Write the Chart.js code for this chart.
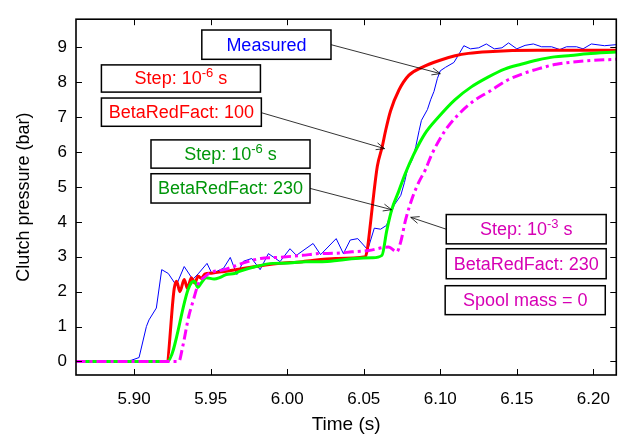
<!DOCTYPE html>
<html>
<head>
<meta charset="utf-8">
<script src="https://cdn.jsdelivr.net/npm/chart.js@4.4.0/dist/chart.umd.min.js"></script>
<style>
    html, body { margin: 0; padding: 0; background: #fff; }
</style>
</head>
<body>
<canvas id="chart" width="624" height="443"></canvas>
<script>
// values
const measuredT = [5.8617, 5.8922, 5.898, 5.9032, 5.908, 5.9097, 5.9145, 5.918, 5.9223, 5.9275, 5.9327, 5.9383, 5.9422, 5.9476, 5.9508, 5.9584, 5.9628, 5.9671, 5.9714, 5.9768, 5.9823, 5.9877, 5.9953, 6.0018, 6.006, 6.0169, 6.0218, 6.032, 6.0367, 6.0412, 6.0461, 6.0526, 6.0569, 6.061, 6.0649, 6.0699, 6.0742, 6.0766, 6.0786, 6.0818, 6.084, 6.0862, 6.0877, 6.0916, 6.0937, 6.0959, 6.0981, 6.1, 6.1034, 6.1089, 6.1121, 6.1154, 6.1197, 6.1251, 6.1301, 6.1353, 6.1403, 6.1446, 6.15, 6.1554, 6.1608, 6.1662, 6.1727, 6.1781, 6.1825, 6.189, 6.1933, 6.1987, 6.2073, 6.2149];
const measuredP = [0, 0, 0.03, 0.11, 1.0, 1.19, 1.53, 2.63, 2.52, 2.18, 2.72, 2.35, 2.53, 2.81, 2.52, 2.67, 2.98, 2.49, 2.87, 2.95, 2.63, 3.09, 2.86, 3.23, 3.04, 3.38, 3.06, 3.52, 3.09, 3.48, 3.52, 3.2, 3.82, 3.79, 3.9, 4.48, 4.76, 5.13, 5.51, 5.79, 6.16, 6.62, 6.91, 7.22, 7.5, 7.74, 8.11, 8.33, 8.43, 8.57, 8.8, 9.05, 8.96, 8.99, 9.1, 8.96, 8.99, 9.13, 8.96, 9.06, 9.1, 9.02, 9.02, 8.94, 9.02, 9.02, 8.96, 9.1, 9.05, 9.08];

const beta100T = [5.8617, 5.9212, 5.9262, 5.9277, 5.9299, 5.9327, 5.9348, 5.9374, 5.9396, 5.9418, 5.944, 5.9461, 5.9505, 5.959, 5.968, 5.9883, 6.0099, 6.0315, 6.051, 6.0523, 6.0545, 6.0567, 6.0589, 6.0621, 6.0643, 6.0675, 6.073, 6.0794, 6.0881, 6.0989, 6.1097, 6.1184, 6.1312, 6.1636, 6.2149];
const beta100P = [0, 0, 2.1, 2.3, 2.0, 2.35, 2.1, 2.4, 2.25, 2.44, 2.38, 2.5, 2.53, 2.58, 2.64, 2.78, 2.86, 2.95, 3.0, 3.2, 4.0, 4.86, 5.6, 6.16, 6.62, 7.18, 7.78, 8.2, 8.43, 8.62, 8.76, 8.83, 8.88, 8.92, 8.92];

const beta230T = [5.8617, 5.9216, 5.9353, 5.9375, 5.9393, 5.9416, 5.9437, 5.947, 5.9523, 5.9558, 5.9602, 5.9656, 5.9688, 5.9795, 5.9905, 6.0013, 6.0121, 6.0229, 6.0338, 6.0446, 6.0554, 6.0619, 6.065, 6.0683, 6.0727, 6.077, 6.0825, 6.09, 6.0987, 6.1095, 6.1203, 6.1312, 6.142, 6.1528, 6.1636, 6.1745, 6.1853, 6.1961, 6.2149];
const beta230P = [0, 0, 2.07, 2.26, 2.3, 2.12, 2.24, 2.4, 2.36, 2.4, 2.49, 2.52, 2.58, 2.72, 2.81, 2.82, 2.86, 2.86, 2.9, 2.95, 2.97, 3.04, 3.74, 4.35, 4.86, 5.37, 5.92, 6.53, 7.0, 7.5, 7.87, 8.15, 8.38, 8.52, 8.64, 8.73, 8.77, 8.82, 8.87];

const spoolT = [5.8617, 5.9292, 5.9316, 5.9357, 5.9383, 5.9411, 5.9426, 5.9448, 5.9502, 5.9589, 5.9719, 5.9826, 5.9935, 6.0099, 6.0208, 6.0315, 6.0424, 6.0532, 6.0662, 6.0716, 6.0743, 6.0773, 6.0816, 6.0859, 6.0903, 6.0946, 6.1032, 6.1119, 6.1216, 6.1325, 6.1433, 6.1541, 6.165, 6.1758, 6.1867, 6.2, 6.2149];
const spoolP = [0, 0, 0.4, 1.3, 1.7, 2.12, 2.3, 2.38, 2.55, 2.63, 2.83, 2.95, 2.98, 3.04, 3.09, 3.1, 3.14, 3.18, 3.28, 3.14, 3.45, 4.05, 4.67, 5.13, 5.5, 5.95, 6.62, 7.08, 7.46, 7.75, 8.05, 8.25, 8.4, 8.52, 8.58, 8.63, 8.66];

const xTicks = [5.90, 5.95, 6.00, 6.05, 6.10, 6.15, 6.20];
const yTicks = [0, 1, 2, 3, 4, 5, 6, 7, 8, 9];

// text boxes: corners in data units
const boxes = [
    {x: [5.9442, 6.0286], y: [9.50, 8.66], color: '#0000ff', parts: [{t: 'Measured'}]},
    {x: [5.8786, 5.9825], y: [8.50, 7.72], color: '#ff0000', parts: [{t: 'Step: 10'}, {t: '-6', sup: true}, {t: ' s'}]},
    {x: [5.8786, 5.9831], y: [7.55, 6.74], color: '#ff0000', parts: [{t: 'BetaRedFact: 100'}]},
    {x: [5.911, 6.0149], y: [6.35, 5.54], color: '#00960a', parts: [{t: 'Step: 10'}, {t: '-6', sup: true}, {t: ' s'}]},
    {x: [5.911, 6.0149], y: [5.38, 4.54], color: '#00960a', parts: [{t: 'BetaRedFact: 230'}]},
    {x: [6.1039, 6.2084], y: [4.21, 3.37], color: '#d600b4', parts: [{t: 'Step: 10'}, {t: '-3', sup: true}, {t: ' s'}]},
    {x: [6.1039, 6.2084], y: [3.23, 2.37], color: '#d600b4', parts: [{t: 'BetaRedFact: 230'}]},
    {x: [6.1032, 6.2078], y: [2.17, 1.34], color: '#d600b4', parts: [{t: 'Spool mass = 0'}]}
];
const arrows = [
    [[6.0286, 9.08], [6.1, 8.25]],
    [[5.9831, 7.13], [6.0636, 6.10]],
    [[6.0149, 4.96], [6.0682, 4.35]],
    [[6.1039, 3.79], [6.0807, 4.13]]
];

const FONT = "'Liberation Sans', Arial, Helvetica, sans-serif";

function pts(t, p) {
    return t.map((v, i) => ({x: v, y: p[i]}));
}

const overlay = {
    id: 'overlay',
    afterDatasetsDraw(chart) {
        const {ctx, chartArea: a, scales: {x, y}} = chart;
        ctx.save();

        // frame with inward ticks on all sides
        ctx.strokeStyle = '#000';
        ctx.lineWidth = 1.6;
        ctx.strokeRect(a.left, a.top, a.right - a.left, a.bottom - a.top);
        ctx.lineWidth = 1;
        ctx.beginPath();
        xTicks.forEach(v => {
            const px = Math.round(x.getPixelForValue(v)) + 0.5;
            ctx.moveTo(px, a.bottom); ctx.lineTo(px, a.bottom - 6);
            ctx.moveTo(px, a.top); ctx.lineTo(px, a.top + 6);
        });
        yTicks.forEach(v => {
            const py = Math.round(y.getPixelForValue(v)) + 0.5;
            ctx.moveTo(a.left, py); ctx.lineTo(a.left + 6, py);
            ctx.moveTo(a.right, py); ctx.lineTo(a.right - 6, py);
        });
        ctx.stroke();

        // arrows
        ctx.lineWidth = 0.8;
        arrows.forEach(([from, to]) => {
            const x0 = x.getPixelForValue(from[0]), y0 = y.getPixelForValue(from[1]);
            const x1 = x.getPixelForValue(to[0]), y1 = y.getPixelForValue(to[1]);
            const ang = Math.atan2(y1 - y0, x1 - x0);
            ctx.beginPath();
            ctx.moveTo(x0, y0); ctx.lineTo(x1, y1);
            ctx.moveTo(x1 - 9 * Math.cos(ang - 0.4), y1 - 9 * Math.sin(ang - 0.4));
            ctx.lineTo(x1, y1);
            ctx.lineTo(x1 - 9 * Math.cos(ang + 0.4), y1 - 9 * Math.sin(ang + 0.4));
            ctx.stroke();
        });

        // labelled boxes
        boxes.forEach(b => {
            const l = x.getPixelForValue(b.x[0]), r = x.getPixelForValue(b.x[1]);
            const t = y.getPixelForValue(b.y[0]), btm = y.getPixelForValue(b.y[1]);
            ctx.fillStyle = '#fff';
            ctx.fillRect(l, t, r - l, btm - t);
            ctx.strokeStyle = '#000';
            ctx.lineWidth = 1.5;
            ctx.strokeRect(l, t, r - l, btm - t);

            let w = 0;
            b.parts.forEach(p => {
                ctx.font = (p.sup ? '13px ' : '18px ') + FONT;
                p.w = ctx.measureText(p.t).width;
                w += p.w;
            });
            let cx = (l + r) / 2 - w / 2;
            const cy = (t + btm) / 2 + 1;
            ctx.fillStyle = b.color;
            ctx.textBaseline = 'middle';
            ctx.textAlign = 'left';
            b.parts.forEach(p => {
                ctx.font = (p.sup ? '13px ' : '18px ') + FONT;
                ctx.fillText(p.t, cx, p.sup ? cy - 6 : cy);
                cx += p.w;
            });
        });
        ctx.restore();
    }
};

new Chart(document.getElementById('chart'), {
    type: 'line',
    data: {
        datasets: [
            {
                label: 'Step 1e-3, BetaRedFact 230, spool mass 0',
                data: pts(spoolT, spoolP),
                borderColor: '#ff00ff',
                borderWidth: 3,
                borderDash: [10, 4, 3, 4],
                cubicInterpolationMode: 'monotone',
                order: 1
            },
            {
                label: 'Step 1e-6, BetaRedFact 230',
                data: pts(beta230T, beta230P),
                borderColor: '#00ff00',
                borderWidth: 3,
                cubicInterpolationMode: 'monotone',
                order: 2
            },
            {
                label: 'Step 1e-6, BetaRedFact 100',
                data: pts(beta100T, beta100P),
                borderColor: '#ff0000',
                borderWidth: 3,
                cubicInterpolationMode: 'monotone',
                order: 3
            },
            {
                label: 'Measured',
                data: pts(measuredT, measuredP),
                borderColor: '#0000ff',
                borderWidth: 1,
                tension: 0,
                order: 4
            }
        ]
    },
    options: {
        responsive: false,
        animation: false,
        elements: {point: {radius: 0}},
        layout: {padding: {top: 9, right: 3, left: 0, bottom: 0}},
        plugins: {
            legend: {display: false},
            tooltip: {enabled: false}
        },
        scales: {
            x: {
                type: 'linear',
                min: 5.862,
                max: 6.215,
                afterBuildTicks: s => { s.ticks = xTicks.map(v => ({value: v})); },
                afterFit: s => { s.height = 68; },
                grid: {display: false, drawTicks: false},
                border: {display: false},
                ticks: {
                    color: '#000',
                    font: {family: FONT, size: 17},
                    padding: 14,
                    maxRotation: 0,
                    autoSkip: false,
                    callback: v => v.toFixed(2)
                },
                title: {
                    display: true,
                    text: 'Time (s)',
                    color: '#000',
                    font: {family: FONT, size: 19},
                    padding: {top: 0, bottom: 7}
                }
            },
            y: {
                min: -0.39,
                max: 9.81,
                afterBuildTicks: s => { s.ticks = yTicks.map(v => ({value: v})); },
                afterFit: s => { s.width = 76; },
                grid: {display: false, drawTicks: false},
                border: {display: false},
                ticks: {
                    color: '#000',
                    font: {family: FONT, size: 17},
                    padding: 9,
                    autoSkip: false
                },
                title: {
                    display: true,
                    text: 'Clutch pressure (bar)',
                    color: '#000',
                    font: {family: FONT, size: 18},
                    padding: {top: 13, bottom: 0}
                }
            }
        }
    },
    plugins: [overlay]
});
</script>
</body>
</html>
